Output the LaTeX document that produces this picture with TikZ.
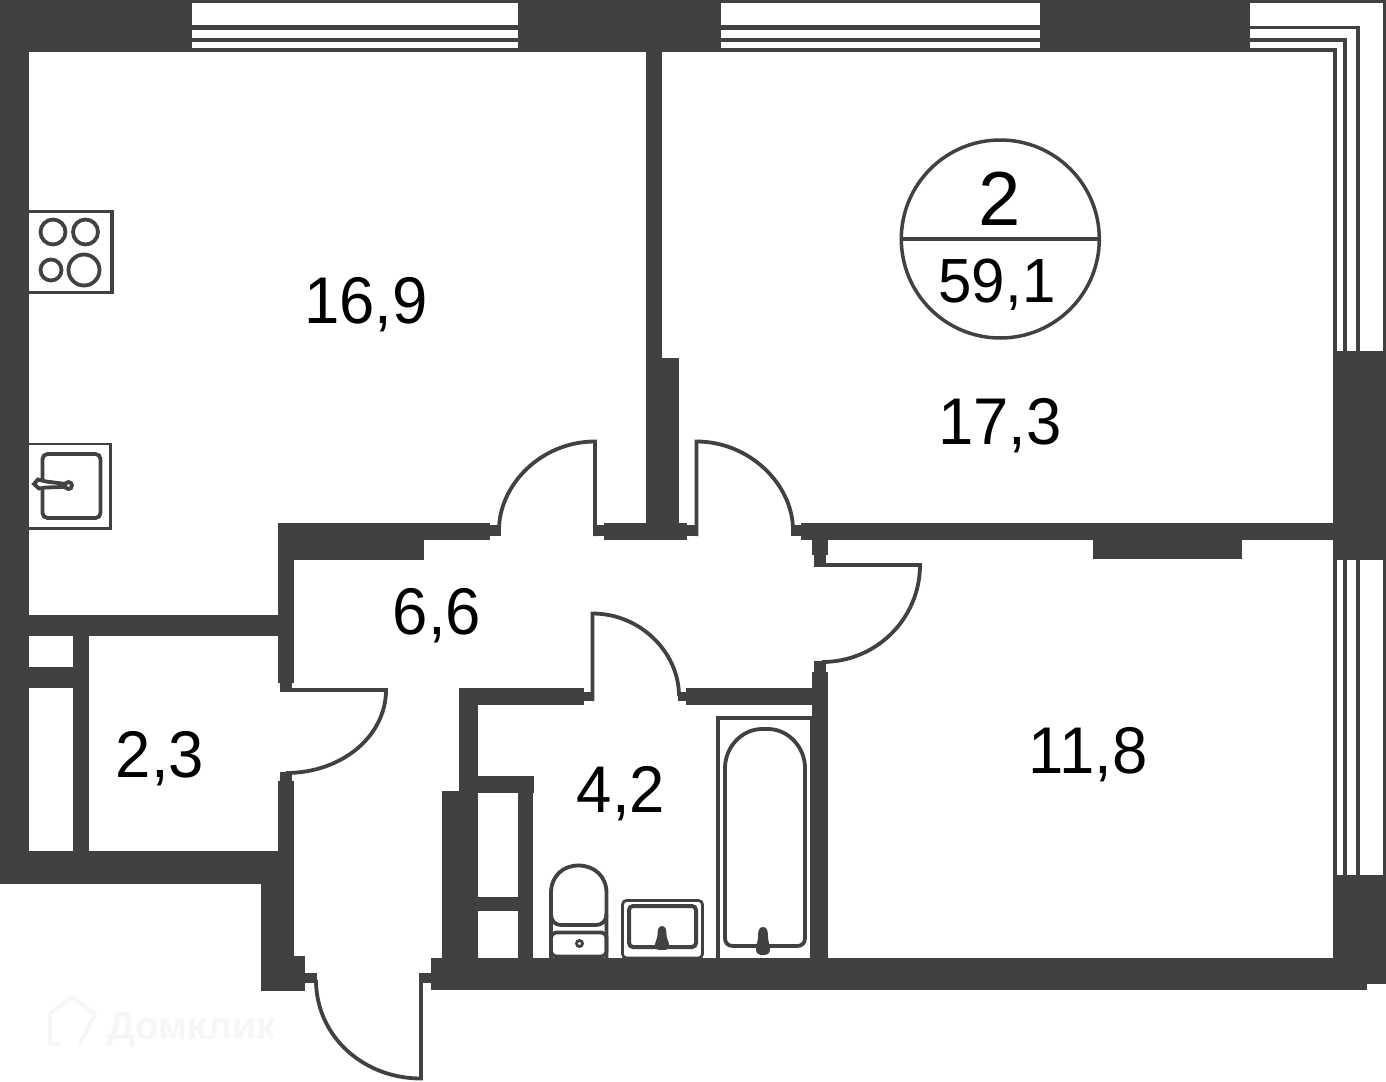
\documentclass[tikz,border=0pt]{standalone}
\usepackage{fontspec}
\setmainfont{Liberation Sans}
\definecolor{wallcol}{HTML}{414141}
\definecolor{markcol}{HTML}{F6F6F6}
\tikzset{
  wall/.style={fill=wallcol,draw=none},
  door/.style={draw=wallcol,line width=3.8pt},
  fixture/.style={draw=wallcol,line width=3.8pt},
  thin fixture/.style={draw=wallcol,line width=2.8pt},
  glass/.style={draw=wallcol,line width=3.8pt,miter limit=10},
  area/.style={anchor=base,inner sep=0pt,font=\fontsize{63.5}{63.5}\selectfont,yscale=1.04,transform shape}
}
\begin{document}
\begin{tikzpicture}[x=1pt,y=-1pt]
\useasboundingbox (0,0) rectangle (1386,1081);

\fill[wall] (0,0) rectangle (192,52);
\fill[wall] (518,0) rectangle (721,52);
\fill[wall] (1040,0) rectangle (1250,52);
\fill[wall] (192,0) rectangle (518,3);
\fill[wall] (192,25) rectangle (518,30);
\fill[wall] (192,38) rectangle (518,42);
\fill[wall] (192,48) rectangle (518,52);
\fill[wall] (721,0) rectangle (1040,3);
\fill[wall] (721,25) rectangle (1040,30);
\fill[wall] (721,38) rectangle (1040,42);
\fill[wall] (721,48) rectangle (1040,52);

\draw[glass,line width=3pt] (1250,1.5) -- (1384.5,1.5) -- (1384.5,352);
\draw[glass] (1250,27.5) -- (1358.3,27.5) -- (1358.3,352);
\draw[glass] (1250,40) -- (1345.2,40) -- (1345.2,352);
\draw[glass] (1250,50) -- (1335,50) -- (1335,352);
\draw[glass,line width=3pt] (1384.5,560) -- (1384.5,875);
\draw[glass] (1358.3,560) -- (1358.3,875);
\draw[glass] (1345.2,560) -- (1345.2,875);
\draw[glass] (1335,560) -- (1335,875);

\fill[wall] (1333,351) rectangle (1386,560);
\fill[wall] (1333,875) rectangle (1386,984);
\fill[wall] (431,958) rectangle (1367,989.5);

\fill[wall] (0,0) rectangle (29,884);
\fill[wall] (0,851) rectangle (294,884);
\fill[wall] (261,851) rectangle (294,991);
\fill[wall] (261,956) rectangle (305,991);
\fill[wall] (305,973) rectangle (317,983);
\fill[wall] (419,973) rectangle (431,983);
\fill[wall] (29,615) rectangle (278,636);
\fill[wall] (73,636) rectangle (89,851);
\fill[wall] (29,667) rectangle (73,688);
\fill[wall] (278,523) rectangle (294,683);
\fill[wall] (278,781) rectangle (294,851);
\fill[wall] (280,683) rectangle (292,692);
\fill[wall] (280,772) rectangle (292,781);

\fill[wall] (278,523) rectangle (490,540);
\fill[wall] (278,540) rectangle (424,559.5);
\fill[wall] (490,525) rectangle (501,536);
\fill[wall] (593,525) rectangle (604,536);
\fill[wall] (604,523) rectangle (687,540);
\fill[wall] (645.5,52) rectangle (662,358);
\fill[wall] (645.5,358) rectangle (679,540);
\fill[wall] (687,525) rectangle (698,536);
\fill[wall] (791,525) rectangle (801,536);
\fill[wall] (801,523) rectangle (1333,540);
\fill[wall] (1093,540) rectangle (1241.5,559);
\fill[wall] (812,540) rectangle (828,555);
\fill[wall] (814,555) rectangle (826,567);
\fill[wall] (814,661) rectangle (826,672);
\fill[wall] (812,672) rectangle (828,958);
\fill[wall] (810,720) rectangle (812,958);

\fill[wall] (459,688) rectangle (584,705);
\fill[wall] (584,692) rectangle (594,701);
\fill[wall] (678,692) rectangle (686,701);
\fill[wall] (686,688) rectangle (812,705);
\fill[wall] (459,705) rectangle (478,958);
\fill[wall] (442,791) rectangle (478,958);
\fill[wall] (478,776) rectangle (534,793);
\fill[wall] (518,793) rectangle (533,958);
\fill[wall] (478,897) rectangle (518,911);

\draw[door] (595,536) -- (595,441.5) .. controls (541,441.5) and (499,485) .. (499,530);
\draw[door] (696.5,536) -- (696.5,441.5) .. controls (750,441.5) and (793,485) .. (793,530);
\draw[door] (824,565) -- (920,565) .. controls (920,618) and (877,662) .. (822,662);
\draw[door] (592.5,701) -- (592.5,613.5) .. controls (640,613.5) and (679,652) .. (679,696);
\draw[door] (290,690) -- (386,690) .. controls (386,736) and (342,773) .. (286,773);
\draw[door] (421,983) -- (421,1078.5) .. controls (363,1078.5) and (316,1036) .. (316,980);

\draw[fixture] (29,211.5) -- (112,211.5) -- (112,292.5) -- (29,292.5);
\draw[fixture] (53,232) circle (12.5);
\draw[fixture] (85.5,232) circle (12.5);
\draw[fixture] (51,270) circle (10.5);
\draw[fixture] (84,270) circle (15.5);

\draw[thin fixture] (29,444) -- (110.5,444) -- (110.5,528.5) -- (29,528.5);
\draw[fixture,rounded corners=5pt] (42.5,454) rectangle (100.5,518);
\draw[fixture,fill=white] (34,484) -- (38,479.5) -- (46,481.5) -- (62,483.5) -- (62,487) -- (46,487.5) -- (39,488.5) -- cycle;
\draw[fixture] (68.5,485.5) circle (3.5);

\draw[fixture] (718,958) -- (718,718) -- (812,718);
\draw[fixture] (725,768) .. controls (725,747) and (742,729) .. (762,729) -- (768,729) .. controls (788,729) and (805,747) .. (805,768) -- (805,938) .. controls (805,943) and (802,946) .. (797,946) -- (733,946) .. controls (728,946) and (725,943) .. (725,938) -- cycle;
\fill[wall] (763,927) .. controls (767.5,927) and (768,932) .. (768,937) .. controls (768,941) and (770,945) .. (770,949) .. controls (770,954) and (767,955) .. (763,955) .. controls (759,955) and (756,954) .. (756,949) .. controls (756,945) and (758,941) .. (758,937) .. controls (758,932) and (758.5,927) .. (763,927) -- cycle;

\draw[thin fixture,rounded corners=4pt] (622.5,900.5) rectangle (702.5,958);
\draw[fixture,line width=4pt,rounded corners=4pt] (629,906) rectangle (696,947);
\fill[wall] (662,926) .. controls (666,926) and (666.5,931) .. (666.5,935) .. controls (666.5,939) and (669,941) .. (669,945) .. controls (669,950) and (666,950) .. (662,950) .. controls (658,950) and (655,950) .. (655,945) .. controls (655,941) and (657.5,939) .. (657.5,935) .. controls (657.5,931) and (658,926) .. (662,926) -- cycle;

\draw[fixture] (551,958) -- (551,893) .. controls (551,876) and (563,865.5) .. (578.5,865.5) .. controls (594,865.5) and (606.5,876) .. (606.5,893) -- (606.5,958);
\draw[fixture] (551,914) .. controls (551,921) and (555,925) .. (561,925) -- (596,925) .. controls (602,925) and (606.5,921) .. (606.5,914);
\draw[fixture,rounded corners=5pt] (551,932.5) rectangle (606.5,956.5);
\draw[thin fixture] (579.5,943.5) circle (3);

\draw[door,line width=3.5pt] (1000.3,239) circle (99);
\draw[door,line width=4.5pt] (901,239.2) -- (1099,239.2);

\node[area] (kitchen) at (366,323.5) {16,9};
\node[area] (bedroom) at (1000,444) {17,3};
\node[area] (hall) at (437,634) {6,6};
\node[area] (closet) at (160,777) {2,3};
\node[area] (bathroom) at (621,812) {4,2};
\node[area] (room) at (1088,773) {11,8};
\node[area,font=\fontsize{76}{76}\selectfont,yscale=0.97] (rooms) at (1000,225) {2};
\node[area,font=\fontsize{60}{60}\selectfont] (total) at (997,302) {59,1};

\draw[draw=markcol,line width=4pt,line join=round] (60,1044) -- (50,1044) -- (50,1014) -- (72,997) -- (95,1014) -- (80,1044);
\node[anchor=base west,inner sep=0pt,text=markcol,font=\bfseries\fontsize{39}{39}\selectfont] (watermark) at (107,1039) {Домклик};
\end{tikzpicture}
\end{document}
